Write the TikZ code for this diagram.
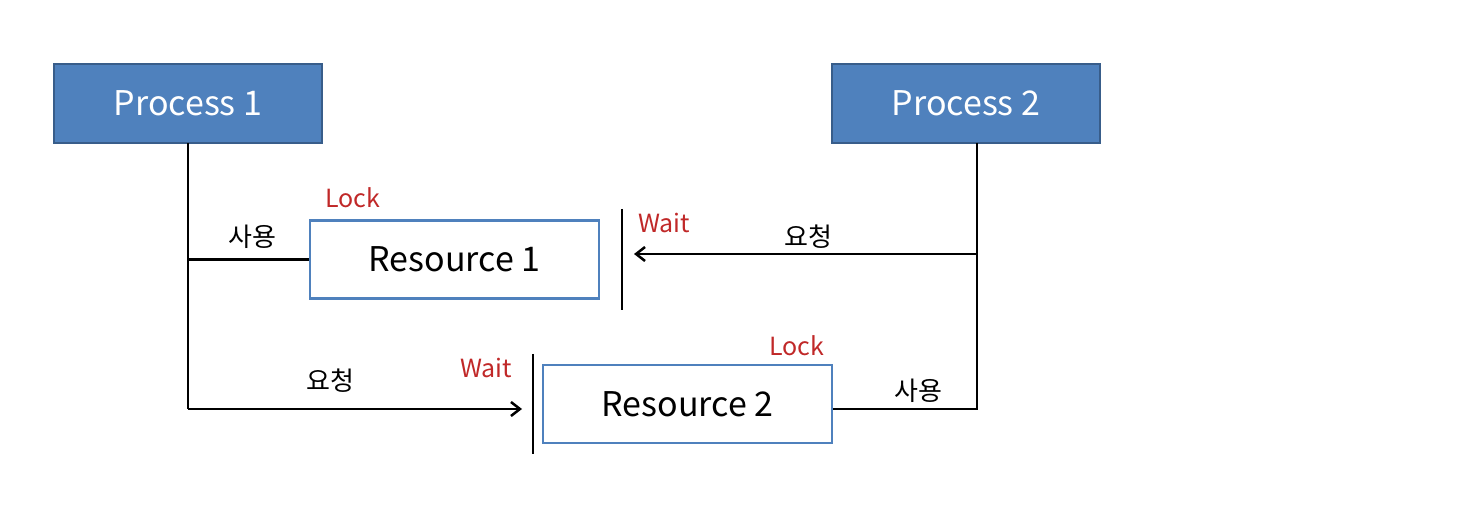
\documentclass[tikz,border=0pt]{standalone}
\usepackage{fontspec}
\setmainfont{Noto Sans CJK KR}
\usetikzlibrary{arrows.meta}
\definecolor{procblue}{RGB}{79,129,189}
\definecolor{procedge}{RGB}{56,93,138}
\definecolor{resedge}{RGB}{79,129,189}
\definecolor{lockred}{RGB}{192,40,40}
\begin{document}
\begin{tikzpicture}[x=1pt,y=-1pt,
  procbox/.style={draw=procedge,line width=2pt,fill=procblue,text=white,minimum width=268pt,minimum height=79pt,inner sep=0pt,font=\fontsize{34}{36}\selectfont},
  resbox/.style={draw=resedge,line width=2.5pt,fill=white,text=black,minimum width=289pt,minimum height=78pt,inner sep=0pt,font=\fontsize{34}{36}\selectfont},
  conn/.style={line width=2.5pt,black},
  arr/.style={conn,-{Straight Barb[length=9pt,width=14pt,line width=2.5pt]}},
  redlbl/.style={text=lockred,inner sep=0pt,font=\fontsize{25}{27}\selectfont},
  krlbl/.style={text=black,inner sep=0pt,font=\fontsize{26}{28}\selectfont}]
\useasboundingbox (0,0) rectangle (1468,510);
\node[procbox] (p1) at (188,103.5) {Process 1};
\node[procbox] (p2) at (966,103.5) {Process 2};
\node[resbox] (r1) at (454.5,259.5) {Resource 1};
\node[resbox] (r2) at (687.5,404) {Resource 2};
% wait bars
\coordinate (w1t) at (622,209);
\coordinate (w1b) at (622,310);
\coordinate (w2t) at (533,354);
\coordinate (w2b) at (533,454);
\draw[conn] (w1t) -- (w1b);
\draw[conn] (w2t) -- (w2b);
% process 1 connectors
\coordinate (p1b) at (188,143);
\coordinate (j1b) at (188,409);
\coordinate (a2) at (522,409);
\draw[conn] (p1b) -- (j1b);
\draw[conn] (r1.west -| p1b) -- (r1.west);
\draw[arr] (j1b) -- (a2);
% process 2 connectors
\coordinate (p2b) at (977,143);
\coordinate (j2a) at (977,254);
\coordinate (j2b) at (977,409);
\coordinate (a1) at (634,254);
\draw[conn] (p2b) -- (j2b) -- (r2.east |- j2b);
\draw[arr] (j2a) -- (a1);
% labels
\node[redlbl] (l1) at (353,198) {Lock};
\node[krlbl] (u1) at (252,237) {사용};
\node[redlbl] (wt1) at (664,223) {Wait};
\node[krlbl] (q1) at (808,237) {요청};
\node[redlbl] (wt2) at (486,368) {Wait};
\node[redlbl] (l2) at (797,346) {Lock};
\node[krlbl] (q2) at (330,381) {요청};
\node[krlbl] (u2) at (918,391) {사용};
\end{tikzpicture}
\end{document}
